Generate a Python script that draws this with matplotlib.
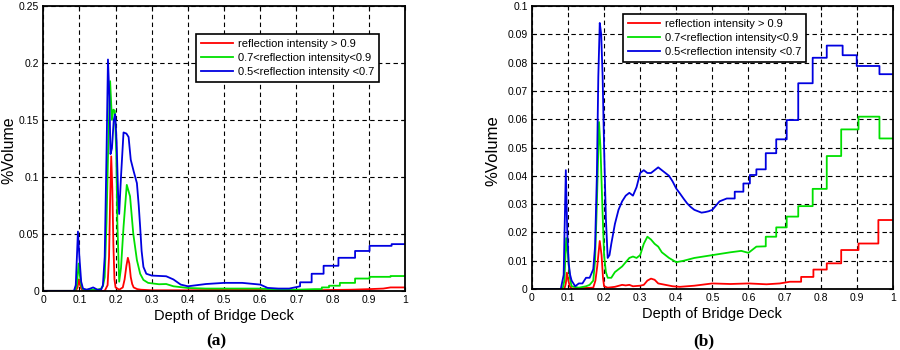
import matplotlib
matplotlib.use("Agg")
import matplotlib.pyplot as plt
from matplotlib.ticker import FuncFormatter

# ---------------- data: panel (a) ----------------
a_red_x = [0, 0.09, 0.095, 0.098, 0.101, 0.105, 0.11, 0.17, 0.178, 0.182,
           0.185, 0.188, 0.191, 0.194, 0.197, 0.2, 0.21, 0.22, 0.225, 0.23,
           0.234, 0.238, 0.242, 0.246, 0.25, 0.26, 0.27, 0.3, 0.4, 0.5,
           0.6, 0.7, 0.75, 0.8, 0.85, 0.9, 0.94, 0.96, 1.0]
a_red_y = [0, 0, 0.003, 0.01, 0.006, 0.002, 0, 0, 0.005, 0.03,
           0.08, 0.118, 0.09, 0.04, 0.01, 0.003, 0.001, 0.003, 0.01, 0.022,
           0.029, 0.024, 0.012, 0.006, 0.003, 0.0015, 0.001, 0.0005, 0.0005, 0.001,
           0.0008, 0.0003, 0.0005, 0.0008, 0.001, 0.0015, 0.002, 0.003, 0.003]

a_green_x = [0, 0.088, 0.093, 0.098, 0.102, 0.106, 0.11, 0.13, 0.15, 0.16,
             0.165, 0.17, 0.175, 0.18, 0.185, 0.19, 0.194, 0.198, 0.202, 0.205,
             0.21, 0.215, 0.222, 0.231, 0.24, 0.249, 0.259, 0.268, 0.277, 0.29,
             0.32, 0.34, 0.36, 0.4, 0.45, 0.5, 0.55, 0.6, 0.65, 0.7,
             0.75, 0.77, 0.77, 0.79, 0.79, 0.82, 0.82, 0.862, 0.862, 0.902,
             0.902, 0.96, 0.96, 1.0]
a_green_y = [0, 0, 0.005, 0.024, 0.012, 0.004, 0.001, 0.001, 0.001, 0.002,
             0.004, 0.012, 0.06, 0.13, 0.184, 0.15, 0.159, 0.158, 0.12, 0.06,
             0.008, 0.02, 0.056, 0.093, 0.083, 0.05, 0.027, 0.015, 0.0096, 0.007,
             0.0058, 0.006, 0.004, 0.0025, 0.002, 0.002, 0.002, 0.002, 0.001, 0.001,
             0.0015, 0.0015, 0.003, 0.003, 0.0045, 0.0045, 0.007, 0.007, 0.0108, 0.0108,
             0.0123, 0.0123, 0.013, 0.013]

a_blue_x = [0, 0.085, 0.09, 0.096, 0.1, 0.105, 0.11, 0.12, 0.13, 0.138,
            0.15, 0.16, 0.165, 0.17, 0.175, 0.179, 0.183, 0.186, 0.19, 0.195,
            0.199, 0.203, 0.207, 0.21, 0.215, 0.222, 0.23, 0.236, 0.242, 0.25,
            0.259, 0.264, 0.268, 0.272, 0.277, 0.285, 0.3, 0.34, 0.36, 0.38,
            0.4, 0.45, 0.5, 0.55, 0.6, 0.62, 0.65, 0.68, 0.71, 0.71,
            0.742, 0.742, 0.775, 0.775, 0.816, 0.816, 0.862, 0.862, 0.902, 0.902,
            0.963, 0.963, 1.0]
a_blue_y = [0, 0, 0.005, 0.052, 0.03, 0.008, 0.002, 0.001, 0.002, 0.003,
            0.001, 0.001, 0.005, 0.03, 0.12, 0.203, 0.17, 0.12, 0.125, 0.15,
            0.155, 0.13, 0.085, 0.0675, 0.1, 0.139, 0.138, 0.135, 0.115, 0.105,
            0.0945, 0.075, 0.056, 0.035, 0.021, 0.015, 0.0134, 0.0128, 0.01, 0.0055,
            0.004, 0.006, 0.007, 0.007, 0.0055, 0.0026, 0.002, 0.002, 0.004, 0.0075,
            0.0075, 0.015, 0.015, 0.022, 0.022, 0.029, 0.029, 0.035, 0.035, 0.0395,
            0.0395, 0.041, 0.041]

# ---------------- data: panel (b) ----------------
b_red_x = [0, 0.09, 0.094, 0.097, 0.101, 0.105, 0.11, 0.17, 0.176, 0.181,
           0.188, 0.193, 0.197, 0.2, 0.21, 0.23, 0.25, 0.26, 0.27, 0.28,
           0.3, 0.31, 0.32, 0.33, 0.34, 0.35, 0.37, 0.39, 0.41, 0.45,
           0.5, 0.55, 0.6, 0.65, 0.687, 0.715, 0.746, 0.746, 0.78, 0.78,
           0.817, 0.817, 0.857, 0.857, 0.905, 0.905, 0.96, 0.96, 1.0]
b_red_y = [0, 0, 0.002, 0.0058, 0.003, 0.001, 0.0002, 0.0005, 0.003, 0.008,
           0.017, 0.012, 0.004, 0.001, 0.0005, 0.0008, 0.0015, 0.0013, 0.0015, 0.001,
           0.0012, 0.0015, 0.003, 0.0037, 0.0033, 0.002, 0.0015, 0.001, 0.0008, 0.0012,
           0.002, 0.0018, 0.002, 0.0017, 0.002, 0.0026, 0.0026, 0.0043, 0.0043, 0.0069,
           0.0069, 0.0091, 0.0091, 0.0138, 0.0138, 0.0161, 0.0161, 0.0244, 0.0244]

b_green_x = [0, 0.085, 0.09, 0.095, 0.1, 0.105, 0.11, 0.13, 0.15, 0.16,
             0.17, 0.175, 0.18, 0.186, 0.19, 0.195, 0.2, 0.205, 0.21, 0.22,
             0.23, 0.25, 0.27, 0.28, 0.29, 0.3, 0.31, 0.32, 0.33, 0.34,
             0.35, 0.36, 0.38, 0.4, 0.42, 0.45, 0.5, 0.55, 0.58, 0.6,
             0.622, 0.648, 0.648, 0.677, 0.677, 0.706, 0.706, 0.738, 0.738, 0.778,
             0.778, 0.817, 0.817, 0.857, 0.857, 0.905, 0.905, 0.963, 0.963, 1.0]
b_green_y = [0, 0, 0.003, 0.018, 0.012, 0.004, 0.001, 0.0005, 0.001, 0.0015,
             0.003, 0.01, 0.03, 0.059, 0.05, 0.03, 0.012, 0.006, 0.004, 0.004,
             0.006, 0.008, 0.011, 0.0115, 0.011, 0.012, 0.016, 0.0185, 0.0175, 0.016,
             0.015, 0.013, 0.011, 0.0095, 0.01, 0.011, 0.012, 0.013, 0.0135, 0.0128,
             0.015, 0.0151, 0.0185, 0.0185, 0.0218, 0.0218, 0.0256, 0.0256, 0.0293, 0.0293,
             0.0354, 0.0354, 0.047, 0.047, 0.0564, 0.0564, 0.0609, 0.0609, 0.0532, 0.0532]

b_blue_x = [0, 0.08, 0.088, 0.094, 0.098, 0.102, 0.106, 0.11, 0.12, 0.13,
            0.14, 0.15, 0.16, 0.17, 0.175, 0.18, 0.184, 0.188, 0.192, 0.196,
            0.2, 0.205, 0.21, 0.215, 0.22, 0.23, 0.24, 0.25, 0.26, 0.27,
            0.28, 0.29, 0.3, 0.31, 0.32, 0.33, 0.34, 0.35, 0.36, 0.37,
            0.38, 0.39, 0.4, 0.41, 0.42, 0.43, 0.44, 0.45, 0.46, 0.47,
            0.48, 0.49, 0.5, 0.51, 0.52, 0.54, 0.562, 0.562, 0.586, 0.586,
            0.604, 0.604, 0.622, 0.622, 0.648, 0.648, 0.677, 0.677, 0.706, 0.706,
            0.738, 0.738, 0.778, 0.778, 0.817, 0.817, 0.861, 0.861, 0.9, 0.9,
            0.963, 0.963, 1.0]
b_blue_y = [0, 0, 0.005, 0.042, 0.02, 0.009, 0.005, 0.003, 0.001, 0.002,
            0.002, 0.004, 0.004, 0.007, 0.015, 0.04, 0.075, 0.094, 0.09, 0.075,
            0.05, 0.025, 0.011, 0.012, 0.016, 0.023, 0.028, 0.031, 0.033, 0.034,
            0.033, 0.036, 0.041, 0.042, 0.041, 0.041, 0.042, 0.043, 0.042, 0.041,
            0.04, 0.038, 0.0355, 0.0338, 0.032, 0.0303, 0.029, 0.028, 0.0275, 0.027,
            0.0272, 0.0275, 0.028, 0.0295, 0.031, 0.032, 0.032, 0.0344, 0.0344, 0.0373,
            0.0373, 0.0403, 0.0403, 0.0423, 0.0423, 0.048, 0.048, 0.0529, 0.0529, 0.0597,
            0.0597, 0.0727, 0.0727, 0.0817, 0.0817, 0.086, 0.086, 0.0826, 0.0826, 0.0788,
            0.0788, 0.0759, 0.0759]

labels = ["reflection intensity > 0.9",
          "0.7<reflection intensity<0.9",
          "0.5<reflection intensity <0.7"]
colors = ["#ff0000", "#00e000", "#0000e0"]
x_ticks = [0, 0.1, 0.2, 0.3, 0.4, 0.5, 0.6, 0.7, 0.8, 0.9, 1.0]
a_yticks = [0, 0.05, 0.1, 0.15, 0.2, 0.25]
b_yticks = [0, 0.01, 0.02, 0.03, 0.04, 0.05, 0.06, 0.07, 0.08, 0.09, 0.1]

plt.rcParams['font.family'] = ['Liberation Sans', 'DejaVu Sans']

fig = plt.figure(figsize=(9, 3.5), dpi=100)
axA = fig.add_axes([0.048, 0.169, 0.402, 0.814])
axB = fig.add_axes([0.591, 0.174, 0.401, 0.809])

fmt = FuncFormatter(lambda v, p: ("%g" % round(v, 4)))

def style(ax, yticks, ymax):
    ax.set_xlim(0, 1)
    ax.set_ylim(0, ymax)
    ax.set_xticks(x_ticks)
    ax.set_yticks(yticks)
    ax.xaxis.set_major_formatter(fmt)
    ax.yaxis.set_major_formatter(fmt)
    ax.tick_params(direction='in', length=3, width=0.8, labelsize=7.5,
                   top=True, right=True, pad=3)
    ax.grid(True, color='black', linestyle=(0, (4, 3)), linewidth=0.8)
    for s in ax.spines.values():
        s.set_linewidth(1.3)
        s.set_color('black')
    ax.set_xlabel("Depth of Bridge Deck", fontsize=10.5, labelpad=3)

series_a = [(a_red_x, a_red_y), (a_green_x, a_green_y), (a_blue_x, a_blue_y)]
series_b = [(b_red_x, b_red_y), (b_green_x, b_green_y), (b_blue_x, b_blue_y)]

for (xs, ys), c, lab in zip(series_a, colors, labels):
    axA.plot(xs, ys, color=c, lw=1.3, label=lab)
for (xs, ys), c, lab in zip(series_b, colors, labels):
    axB.plot(xs, ys, color=c, lw=1.3, label=lab)

style(axA, a_yticks, 0.25)
style(axB, b_yticks, 0.1)

legkw = dict(fontsize=8, frameon=True, fancybox=False, edgecolor='black',
             framealpha=1, handlelength=2.9, borderpad=0.45, labelspacing=0.35,
             handletextpad=0.4, borderaxespad=0)
legA = axA.legend(loc='upper right', bbox_to_anchor=(0.928, 0.902), **legkw)
legB = axB.legend(loc='upper left', bbox_to_anchor=(0.252, 0.972), **legkw)
for lg in (legA, legB):
    lg.get_frame().set_linewidth(1.2)

fig.text(0.001, 0.57, "%Volume", rotation=90, fontsize=11.5, ha='left', va='center')
fig.text(0.548, 0.57, "%Volume", rotation=90, fontsize=12, ha='center', va='center')

fig.text(0.240, 0.024, "(a)", fontsize=12.5, fontweight='bold',
         family='Liberation Serif', ha='center', va='center')
fig.text(0.782, 0.024, "(b)", fontsize=12.5, fontweight='bold',
         family='Liberation Serif', ha='center', va='center')

fig.savefig("out.png", dpi=100)
